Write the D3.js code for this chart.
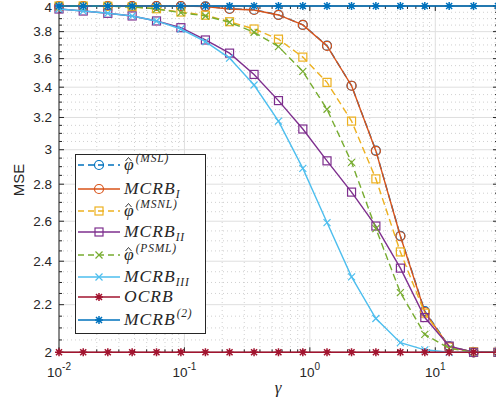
<!DOCTYPE html>
<html>
<head>
<meta charset="utf-8">
<script src="https://cdn.jsdelivr.net/npm/d3@7"></script>
<style>
  body { margin: 0; background: #fff; }
  svg { display: block; }
  .tick-label { font-family: "Liberation Sans", Arial, sans-serif; font-size: 13.5px; fill: #262626; }
  .leg { font-family: "Liberation Serif", "Times New Roman", serif; font-style: italic; fill: #262626; }
</style>
</head>
<body>
<div id="chart"></div>
<script>
// gamma values (x axis, log spaced)
const gamma = [0.01, 0.0156, 0.0245, 0.0383, 0.0599, 0.0937, 0.147, 0.229, 0.359, 0.562,
               0.879, 1.37, 2.15, 3.36, 5.27, 8.25, 12.9, 20.2, 31.6];

const msl    = [4, 4, 4, 4, 4, 4, 3.998, 3.978, 3.970, 3.930, 3.852, 3.695, 3.410, 2.995, 2.525, 2.172, 2.024, 2.0, 2.0];
const mcrbI  = [4, 4, 4, 4, 4, 4, 3.995, 3.976, 3.968, 3.929, 3.851, 3.693, 3.410, 2.993, 2.523, 2.168, 2.022, 2.0, 2.0];
const msnl   = [4, 4, 3.998, 3.993, 3.978, 3.952, 3.927, 3.876, 3.820, 3.743, 3.611, 3.433, 3.177, 2.830, 2.445, 2.163, 2.022, 2.002, 2.0];
const mcrbII = [3.976, 3.960, 3.942, 3.921, 3.882, 3.830, 3.737, 3.640, 3.488, 3.310, 3.127, 2.934, 2.756, 2.575, 2.367, 2.144, 2.025, 2.0, 2.0];
const psml   = [4, 4, 3.998, 3.993, 3.976, 3.947, 3.921, 3.872, 3.795, 3.688, 3.509, 3.253, 2.925, 2.562, 2.254, 2.073, 2.016, 2.0, 2.0];
const mcrbIII= [3.976, 3.960, 3.942, 3.921, 3.882, 3.820, 3.725, 3.604, 3.415, 3.177, 2.890, 2.593, 2.326, 2.140, 2.039, 2.010, 2.0, 2.0, 2.0];
const ocrb   = [2, 2, 2, 2, 2, 2, 2, 2, 2, 2, 2, 2, 2, 2, 2, 2, 2, 2, 2];
const mcrb2  = [4, 4, 4, 4, 4, 4, 4, 4, 4, 4, 4, 4, 4, 4, 4, 4, 4, 4, 4];

const yTicks = [2, 2.2, 2.4, 2.6, 2.8, 3, 3.2, 3.4, 3.6, 3.8, 4];
const xTicks = [0.01, 0.1, 1, 10];
const xTickExp = ["-2", "-1", "0", "1"];

const series = [
  {values: msl,     color: "#0072BD", dash: "7,4", marker: "circle", label: ["\u03C6", "(MSL)", "sup", true]},
  {values: mcrbI,   color: "#D95319", dash: null,  marker: "circle", label: ["MCRB", "I", "sub"]},
  {values: msnl,    color: "#EDB120", dash: "7,4", marker: "square", label: ["\u03C6", "(MSNL)", "sup", true]},
  {values: mcrbII,  color: "#7E2F8E", dash: null,  marker: "square", label: ["MCRB", "II", "sub"]},
  {values: psml,    color: "#77AC30", dash: "7,4", marker: "x",      label: ["\u03C6", "(PSML)", "sup", true]},
  {values: mcrbIII, color: "#4DBEEE", dash: null,  marker: "x",      label: ["MCRB", "III", "sub"]},
  {values: ocrb,    color: "#A2142F", dash: null,  marker: "star",   label: ["OCRB", null, null]},
  {values: mcrb2,   color: "#0072BD", dash: null,  marker: "star",   label: ["MCRB", "(2)", "sup"]}
];

const width = 496, height = 403;
const pLeft = 59, pRight = 498, pTop = 6, pBottom = 352.3;

const svg = d3.select("#chart").append("svg")
    .attr("width", width)
    .attr("height", height);

const x = d3.scaleLog().domain([0.01, Math.pow(10, 1.5)]).range([pLeft, pRight]);
const y = d3.scaleLog().domain([2, 4]).range([pBottom, pTop]);

// minor tick positions
const xMinor = [];
[0.01, 0.1, 1, 10].forEach(d => { for (let k = 2; k <= 9; k++) if (d * k <= 31.6) xMinor.push(d * k); });
const yMinor = d3.range(2.05, 4, 0.05).filter(v => Math.abs(v * 5 - Math.round(v * 5)) > 1e-6);

// grid
const grid = svg.append("g");
grid.selectAll(".xmin").data(xMinor).join("line")
    .attr("x1", d => x(d)).attr("x2", d => x(d)).attr("y1", pTop).attr("y2", pBottom)
    .attr("stroke", "#c4c4c4").attr("stroke-width", 0.8).attr("stroke-dasharray", "1,3");
grid.selectAll(".ymin").data(yMinor).join("line")
    .attr("x1", pLeft).attr("x2", pRight).attr("y1", d => y(d)).attr("y2", d => y(d))
    .attr("stroke", "#c4c4c4").attr("stroke-width", 0.8).attr("stroke-dasharray", "1,3");
grid.selectAll(".xmaj").data(xTicks).join("line")
    .attr("x1", d => x(d)).attr("x2", d => x(d)).attr("y1", pTop).attr("y2", pBottom)
    .attr("stroke", "#dfdfdf").attr("stroke-width", 1);
grid.selectAll(".ymaj").data(yTicks).join("line")
    .attr("x1", pLeft).attr("x2", pRight).attr("y1", d => y(d)).attr("y2", d => y(d))
    .attr("stroke", "#dfdfdf").attr("stroke-width", 1);

// axes box + ticks
const ax = svg.append("g").attr("stroke", "#262626").attr("fill", "none");
ax.append("rect").attr("x", pLeft).attr("y", pTop).attr("width", pRight - pLeft).attr("height", pBottom - pTop)
    .attr("stroke-width", 1);
yTicks.forEach(v => {
  ax.append("line").attr("x1", pLeft).attr("x2", pLeft + 5).attr("y1", y(v)).attr("y2", y(v));
  ax.append("line").attr("x1", pRight).attr("x2", pRight - 5).attr("y1", y(v)).attr("y2", y(v));
});
yMinor.forEach(v => {
  ax.append("line").attr("x1", pLeft).attr("x2", pLeft + 3).attr("y1", y(v)).attr("y2", y(v));
  ax.append("line").attr("x1", pRight).attr("x2", pRight - 3).attr("y1", y(v)).attr("y2", y(v));
});
xTicks.forEach(v => {
  ax.append("line").attr("x1", x(v)).attr("x2", x(v)).attr("y1", pBottom).attr("y2", pBottom - 5);
  ax.append("line").attr("x1", x(v)).attr("x2", x(v)).attr("y1", pTop).attr("y2", pTop + 5);
});
xMinor.forEach(v => {
  ax.append("line").attr("x1", x(v)).attr("x2", x(v)).attr("y1", pBottom).attr("y2", pBottom - 3);
  ax.append("line").attr("x1", x(v)).attr("x2", x(v)).attr("y1", pTop).attr("y2", pTop + 3);
});

// tick labels
svg.selectAll(".ylab").data(yTicks).join("text")
    .attr("class", "tick-label")
    .attr("x", 52).attr("y", d => Math.max(y(d), 7.2)).attr("dy", "0.35em")
    .attr("text-anchor", "end")
    .text(d => String(d));

xTicks.forEach((v, i) => {
  const t = svg.append("text").attr("class", "tick-label")
      .attr("x", x(v)).attr("y", 377).attr("text-anchor", "middle");
  t.append("tspan").text("10");
  t.append("tspan").attr("dy", -7).style("font-size", "10px").text(xTickExp[i]);
});

svg.append("text").attr("class", "tick-label")
    .attr("transform", `translate(24,180) rotate(-90)`)
    .attr("text-anchor", "middle").style("font-size", "15px").text("MSE");
svg.append("text").attr("class", "leg")
    .attr("x", 278).attr("y", 393).attr("text-anchor", "middle").style("font-size", "17px").text("\u03B3");

// markers
function drawMarker(g, type, cx, cy, color) {
  if (type === "circle") {
    g.append("circle").attr("cx", cx).attr("cy", cy).attr("r", 4.5)
      .attr("fill", "none").attr("stroke", color).attr("stroke-width", 1.2);
  } else if (type === "square") {
    g.append("rect").attr("x", cx - 4).attr("y", cy - 4).attr("width", 8).attr("height", 8)
      .attr("fill", "none").attr("stroke", color).attr("stroke-width", 1.2);
  } else if (type === "x") {
    const s = 3.5;
    g.append("path").attr("d", `M${cx - s},${cy - s}L${cx + s},${cy + s}M${cx - s},${cy + s}L${cx + s},${cy - s}`)
      .attr("stroke", color).attr("stroke-width", 1.2);
  } else if (type === "star") {
    const s = 4, d = 3;
    g.append("path").attr("d",
      `M${cx - s},${cy}L${cx + s},${cy}M${cx},${cy - s}L${cx},${cy + s}` +
      `M${cx - d},${cy - d}L${cx + d},${cy + d}M${cx - d},${cy + d}L${cx + d},${cy - d}`)
      .attr("stroke", color).attr("stroke-width", 1.5);
  }
}

const line = d3.line().x((d, i) => x(gamma[i])).y(d => y(d));
const plot = svg.append("g");
series.forEach(s => {
  const g = plot.append("g");
  g.append("path").datum(s.values).attr("d", line)
    .attr("fill", "none").attr("stroke", s.color).attr("stroke-width", 1.4)
    .attr("stroke-dasharray", s.dash);
  s.values.forEach((v, i) => drawMarker(g, s.marker, x(gamma[i]), y(v), s.color));
});

// legend
const legY = [165, 189, 211, 232, 255, 277, 297, 320];
const leg = svg.append("g");
leg.append("rect").attr("x", 75.5).attr("y", 154.5).attr("width", 130).attr("height", 179)
  .attr("fill", "#fff").attr("stroke", "#262626").attr("stroke-width", 1);
series.forEach((s, i) => {
  const ly = legY[i];
  leg.append("line").attr("x1", 78).attr("x2", 120).attr("y1", ly).attr("y2", ly)
    .attr("stroke", s.color).attr("stroke-width", 1.4).attr("stroke-dasharray", s.dash ? "6,4" : null);
  drawMarker(leg, s.marker, 99, ly, s.color);
  const t = leg.append("text").attr("class", "leg").attr("x", 124).attr("y", ly + 5)
    .style("font-size", "17.5px").style("letter-spacing", "1px");
  t.append("tspan").text(s.label[0]);
  if (s.label[1]) {
    const sup = s.label[2] === "sup";
    t.append("tspan").attr("dx", sup ? 1 : 0).attr("dy", sup ? -8 : 4)
      .style("font-size", "11.5px").style("letter-spacing", "0.8px").text(s.label[1]);
  }
  if (s.label[3]) {
    // hat over phi
    leg.append("path").attr("d", `M${125.5},${ly - 4}L${128.5},${ly - 7.5}L${131.5},${ly - 4}`)
      .attr("fill", "none").attr("stroke", "#262626").attr("stroke-width", 0.9);
  }
});
</script>
</body>
</html>
